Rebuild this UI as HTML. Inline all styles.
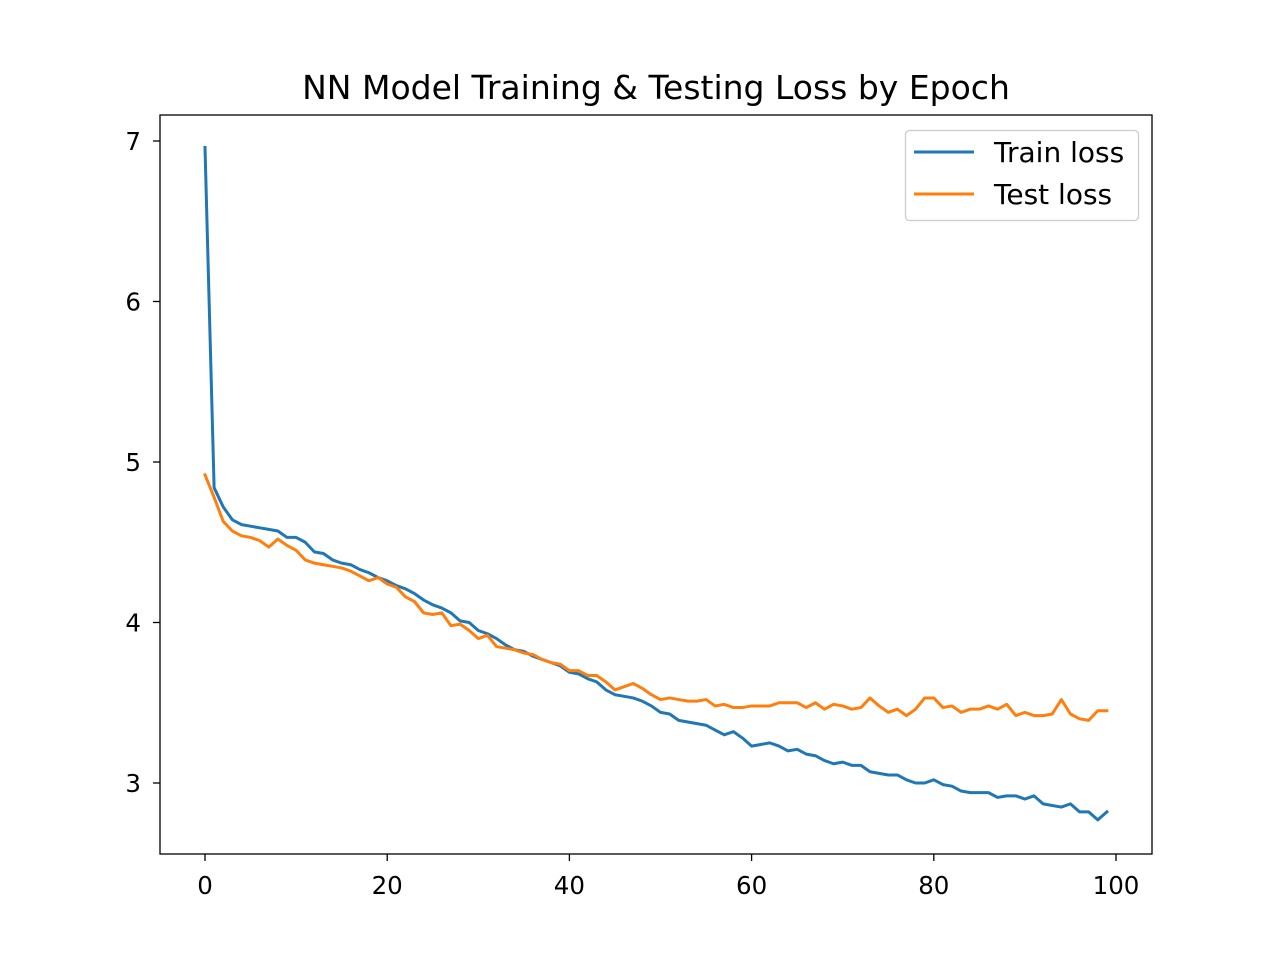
<!DOCTYPE html>
<html><head><meta charset="utf-8"><style>
html,body{margin:0;padding:0;background:#fff;}
svg text{font-family:"DejaVu Sans","Liberation Sans",sans-serif;fill:#000;}
</style></head><body>
<svg id="chart" width="1280" height="960" viewBox="0 0 1280 960" xmlns="http://www.w3.org/2000/svg">
<rect width="1280" height="960" fill="#fff"/>
<text x="656" y="99" text-anchor="middle" font-size="33">NN Model Training &amp; Testing Loss by Epoch</text>
<g id="xticks"></g>
<g id="yticks"></g>
<g id="series"></g>
<rect x="160" y="115" width="992" height="739" fill="none" stroke="#000" stroke-width="1.3"/>
<g>
<rect x="905.5" y="130.5" width="233" height="90" rx="4" fill="#fff" fill-opacity="0.8" stroke="#ccc" stroke-width="1.3"/>
<line x1="914" y1="152" x2="974" y2="152" stroke="#1f77b4" stroke-width="3"/>
<text x="994" y="162" font-size="28">Train loss</text>
<line x1="914" y1="194" x2="974" y2="194" stroke="#ff7f0e" stroke-width="3"/>
<text x="994" y="204" font-size="28">Test loss</text>
</g>
</svg>
<script>
const trainLoss=[6.96,4.84,4.72,4.64,4.61,4.60,4.59,4.58,4.57,4.53,4.53,4.50,4.44,4.43,4.39,4.37,4.36,4.33,4.31,4.28,4.26,4.23,4.21,4.18,4.14,4.11,4.09,4.06,4.01,4.00,3.95,3.93,3.90,3.86,3.83,3.82,3.79,3.77,3.75,3.73,3.69,3.68,3.65,3.63,3.58,3.55,3.54,3.53,3.51,3.48,3.44,3.43,3.39,3.38,3.37,3.36,3.33,3.30,3.32,3.28,3.23,3.24,3.25,3.23,3.20,3.21,3.18,3.17,3.14,3.12,3.13,3.11,3.11,3.07,3.06,3.05,3.05,3.02,3.00,3.00,3.02,2.99,2.98,2.95,2.94,2.94,2.94,2.91,2.92,2.92,2.90,2.92,2.87,2.86,2.85,2.87,2.82,2.82,2.77,2.82];
const testLoss=[4.92,4.78,4.63,4.57,4.54,4.53,4.51,4.47,4.52,4.48,4.45,4.39,4.37,4.36,4.35,4.34,4.32,4.29,4.26,4.28,4.24,4.22,4.16,4.13,4.06,4.05,4.06,3.98,3.99,3.95,3.90,3.92,3.85,3.84,3.83,3.81,3.80,3.77,3.75,3.74,3.70,3.70,3.67,3.67,3.63,3.58,3.60,3.62,3.59,3.55,3.52,3.53,3.52,3.51,3.51,3.52,3.48,3.49,3.47,3.47,3.48,3.48,3.48,3.50,3.50,3.50,3.47,3.50,3.46,3.49,3.48,3.46,3.47,3.53,3.48,3.44,3.46,3.42,3.46,3.53,3.53,3.47,3.48,3.44,3.46,3.46,3.48,3.46,3.49,3.42,3.44,3.42,3.42,3.43,3.52,3.43,3.40,3.39,3.45,3.45];
const xTickLabels=[0,20,40,60,80,100];
const yTickLabels=[3,4,5,6,7];

const NS="http://www.w3.org/2000/svg";
function xs(v){return 205+(v/100)*(1116-205);}
function ys(v){return 783-(v-3)*(783-141)/4;}
function mk(tag,attrs){const e=document.createElementNS(NS,tag);for(const k in attrs)e.setAttribute(k,attrs[k]);return e;}

const xg=document.getElementById('xticks');
xTickLabels.forEach(t=>{
  const l=mk('line',{x1:xs(t),x2:xs(t),y1:854,y2:861,stroke:'#000','stroke-width':1.3});
  
  
  xg.appendChild(l);
  const tx=mk('text',{x:xs(t),y:894,'text-anchor':'middle','font-size':24.5});
  
  
  tx.textContent=t;xg.appendChild(tx);
});
const yg=document.getElementById('yticks');
yTickLabels.forEach(t=>{
  const l=mk('line',{x1:153,x2:160,y1:ys(t),y2:ys(t),stroke:'#000','stroke-width':1.3});
  
  
  yg.appendChild(l);
  const tx=mk('text',{x:141,y:ys(t)+9,'text-anchor':'end','font-size':24.5});
  
  
  tx.textContent=t;yg.appendChild(tx);
});
const sg=document.getElementById('series');
function line(arr,color,name){
  const d=arr.map((v,i)=>(i?'L':'M')+xs(i).toFixed(2)+' '+ys(v).toFixed(2)).join(' ');
  const p=mk('path',{d:d,fill:'none',stroke:color,'stroke-width':3,'stroke-linejoin':'round','stroke-linecap':'square'});
  
  
  sg.appendChild(p);
}
line(trainLoss,'#1f77b4','train-loss-line');
line(testLoss,'#ff7f0e','test-loss-line');
</script>
</body></html>
